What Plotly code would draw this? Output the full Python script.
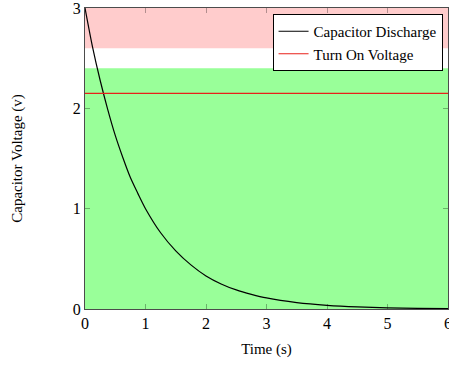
import plotly.graph_objects as go

# Data
time_s = [0, 0.125, 0.25, 0.375, 0.5, 0.625, 0.75, 0.875, 1.0, 1.25, 1.5, 1.75, 2.0,
          2.25, 2.5, 2.75, 3.0, 3.5, 4.0, 4.5, 5.0, 5.5, 6.0]
voltage = [3.0, 2.61, 2.28, 1.99, 1.73, 1.51, 1.31, 1.15, 1.0, 0.76, 0.58, 0.44, 0.33,
           0.25, 0.19, 0.146, 0.11, 0.064, 0.037, 0.021, 0.012, 0.007, 0.004]
turn_on_voltage = 2.15
green_band = (0.0, 2.4)
red_band = (2.6, 3.0)
x_range = (0, 6)
y_range = (0, 3)
x_ticks = [0, 1, 2, 3, 4, 5, 6]
y_ticks = [0, 1, 2, 3]

FONT = "Liberation Serif, DejaVu Serif, serif"

fig = go.Figure()

fig.add_trace(go.Scatter(
    x=time_s, y=voltage, mode="lines", name="Capacitor Discharge",
    line=dict(color="black", width=1.2, shape="spline", smoothing=0.8),
))
fig.add_trace(go.Scatter(
    x=list(x_range), y=[turn_on_voltage, turn_on_voltage], mode="lines",
    name="Turn On Voltage", line=dict(color="#e8201a", width=1.2),
))

fig.add_shape(type="rect", xref="x", yref="y", x0=x_range[0], x1=x_range[1],
              y0=green_band[0], y1=green_band[1], fillcolor="#99ff99",
              line=dict(width=0), layer="below")
fig.add_shape(type="rect", xref="x", yref="y", x0=x_range[0], x1=x_range[1],
              y0=red_band[0], y1=red_band[1], fillcolor="#ffcccc",
              line=dict(width=0), layer="below")

axis_common = dict(
    showgrid=False, zeroline=False, showline=True, linecolor="rgba(0,0,0,0.7)",
    linewidth=1, mirror="allticks", ticks="inside", ticklen=5,
    tickcolor="rgba(0,0,0,0.3)", tickwidth=1, ticklabeloverflow="allow",
    tickfont=dict(family=FONT, size=16, color="black"),
)

fig.update_xaxes(range=list(x_range), tickvals=x_ticks,
                 title=dict(text="Time (s)", font=dict(family=FONT, size=15, color="black"), standoff=12),
                 **axis_common)
fig.update_yaxes(range=list(y_range), tickvals=y_ticks,
                 title=dict(text="Capacitor Voltage (v)", font=dict(family=FONT, size=15, color="black"), standoff=46),
                 **axis_common)

fig.update_layout(
    width=449, height=367,
    margin=dict(l=85, r=1, t=8, b=58, autoexpand=False),
    plot_bgcolor="white", paper_bgcolor="white",
    showlegend=True,
    legend=dict(x=0.985, y=0.98, xanchor="right", yanchor="top",
                bgcolor="white", bordercolor="black", borderwidth=1,
                font=dict(family=FONT, size=15, color="black"),
                itemwidth=30, tracegroupgap=0),
)

fig.write_html("out.html")
